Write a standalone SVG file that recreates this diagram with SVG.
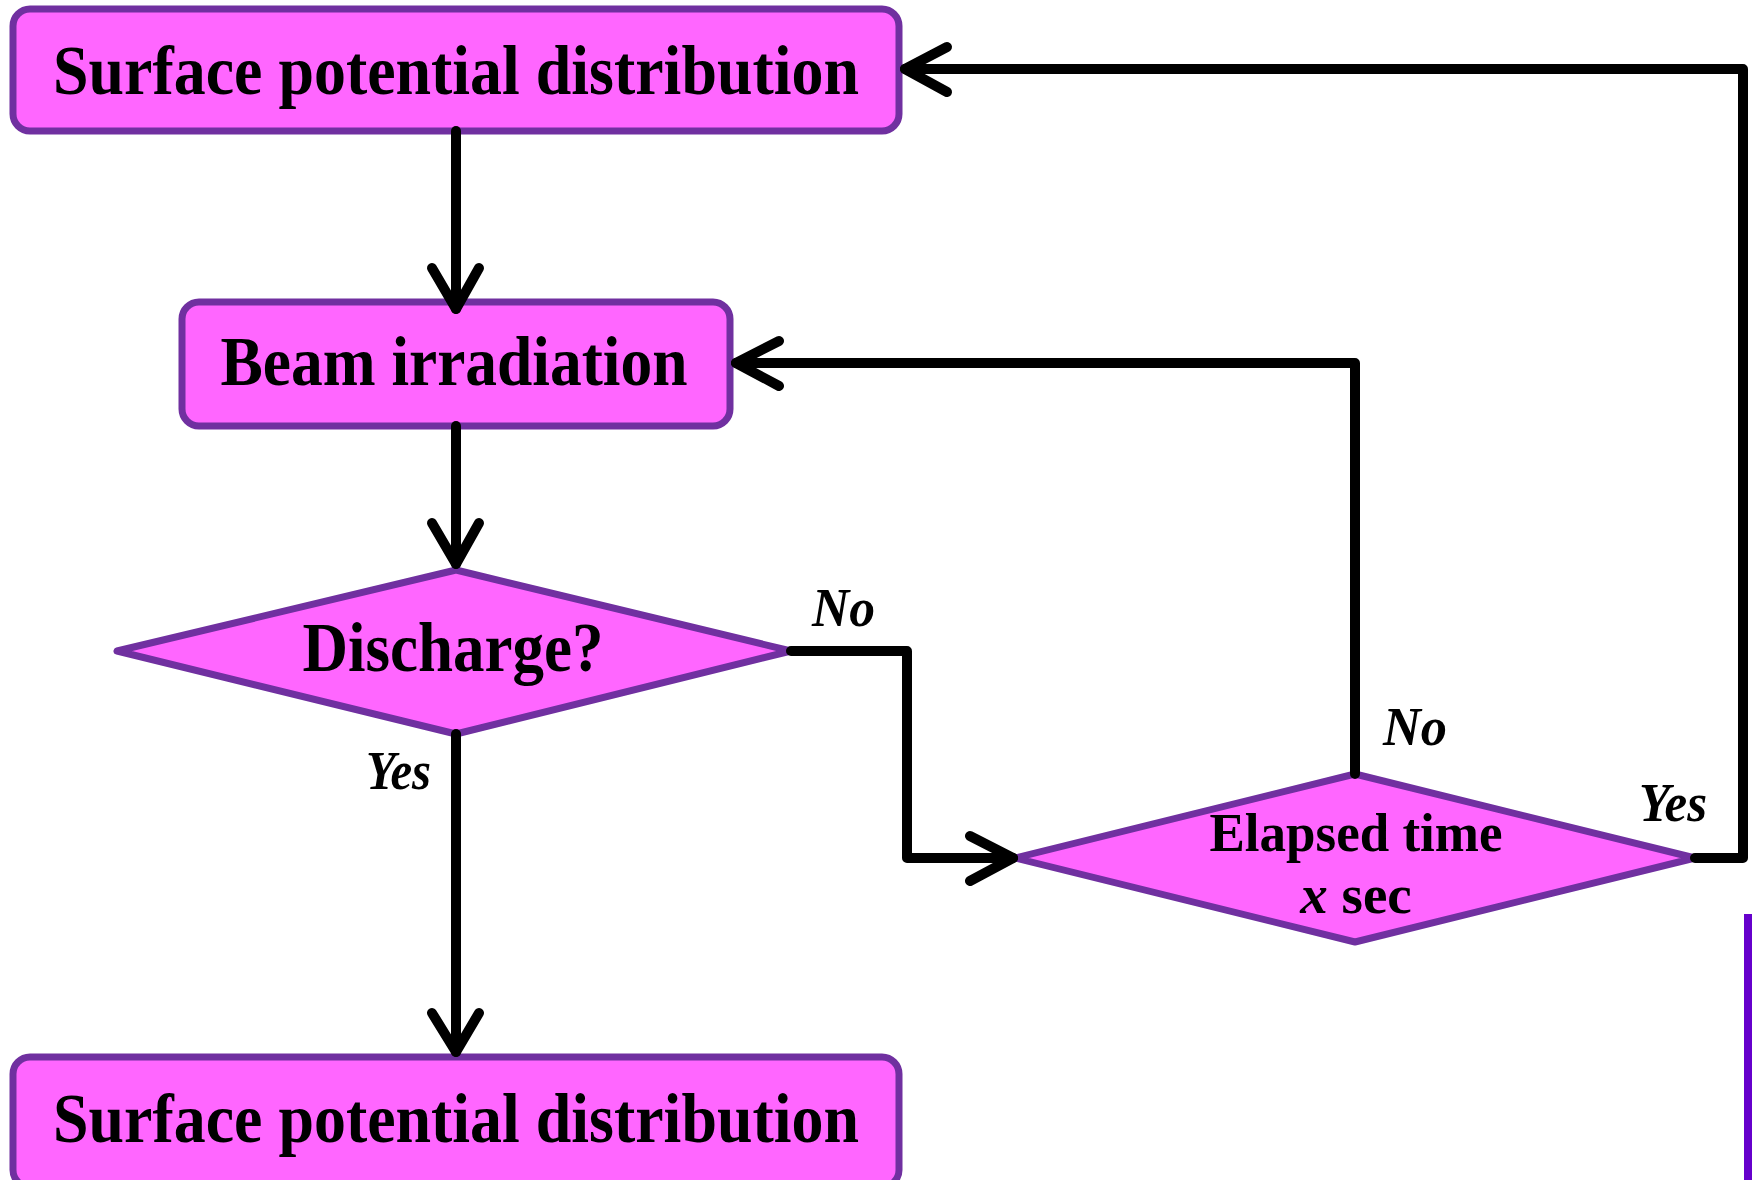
<svg xmlns="http://www.w3.org/2000/svg" width="1752" height="1180" viewBox="0 0 1752 1180">
<style>
.node{fill:#ff66ff;stroke:#7030a0;stroke-width:7;stroke-linejoin:round}
.t{font-family:"Liberation Serif","Times New Roman",serif;font-weight:bold;fill:#000;text-anchor:middle}
.lbl{font-family:"Liberation Serif","Times New Roman",serif;font-weight:bold;font-style:italic;fill:#000}
.c{fill:none;stroke:#000;stroke-width:10;stroke-linecap:round;stroke-linejoin:round}
</style>
<rect x="0" y="0" width="1752" height="1180" fill="#fff"/>
<g id="n1">
<rect class="node" x="13" y="9" width="886" height="122" rx="17"/>
<text class="t" x="456" y="94" font-size="69" textLength="806" lengthAdjust="spacingAndGlyphs">Surface potential distribution</text>
</g>
<g id="n2">
<rect class="node" x="182" y="302" width="548" height="124" rx="17"/>
<text class="t" x="454" y="385" font-size="69" textLength="467" lengthAdjust="spacingAndGlyphs">Beam irradiation</text>
</g>
<g id="n3">
<polygon class="node" points="117,651 456,570 791,651 456,734"/>
<text class="t" x="453" y="671" font-size="69" textLength="301" lengthAdjust="spacingAndGlyphs">Discharge?</text>
</g>
<g id="n4">
<polygon class="node" points="1015,858 1355,774 1695,858 1355,942"/>
<text class="t" x="1356" y="851" font-size="55" textLength="293" lengthAdjust="spacingAndGlyphs">Elapsed time</text>
<text class="t" x="1356" y="913" font-size="55"><tspan font-style="italic">x</tspan> sec</text>
</g>
<g id="n5">
<rect class="node" x="13" y="1057" width="886" height="130" rx="17"/>
<text class="t" x="456" y="1142" font-size="69" textLength="806" lengthAdjust="spacingAndGlyphs">Surface potential distribution</text>
</g>
<g id="connectors">
<path class="c" d="M456,131 V309"/>
<path class="c" d="M432,268 L456,309 L479,268"/>
<path class="c" d="M456,426 V564"/>
<path class="c" d="M432,523 L456,564 L479,523"/>
<path class="c" d="M456,734 V1052"/>
<path class="c" d="M432,1013 L456,1052 L479,1013"/>
<path class="c" d="M791,651 H907 V858 H1013"/>
<path class="c" d="M970,836 L1013,858 L970,881"/>
<path class="c" d="M1355,774 V363 H736"/>
<path class="c" d="M779,341 L736,363 L779,386"/>
<path class="c" d="M1695,858 H1743 V69 H905"/>
<path class="c" d="M947,47 L905,69 L947,92"/>
</g>
<g id="labels">
<text class="lbl" x="812" y="626" font-size="55" textLength="63" lengthAdjust="spacingAndGlyphs">No</text>
<text class="lbl" x="366" y="789" font-size="55" textLength="65" lengthAdjust="spacingAndGlyphs">Yes</text>
<text class="lbl" x="1383" y="745" font-size="55" textLength="64" lengthAdjust="spacingAndGlyphs">No</text>
<text class="lbl" x="1639" y="821" font-size="55" textLength="68" lengthAdjust="spacingAndGlyphs">Yes</text>
</g>
<rect x="1744" y="914" width="8" height="266" fill="#6600cc"/>
</svg>
